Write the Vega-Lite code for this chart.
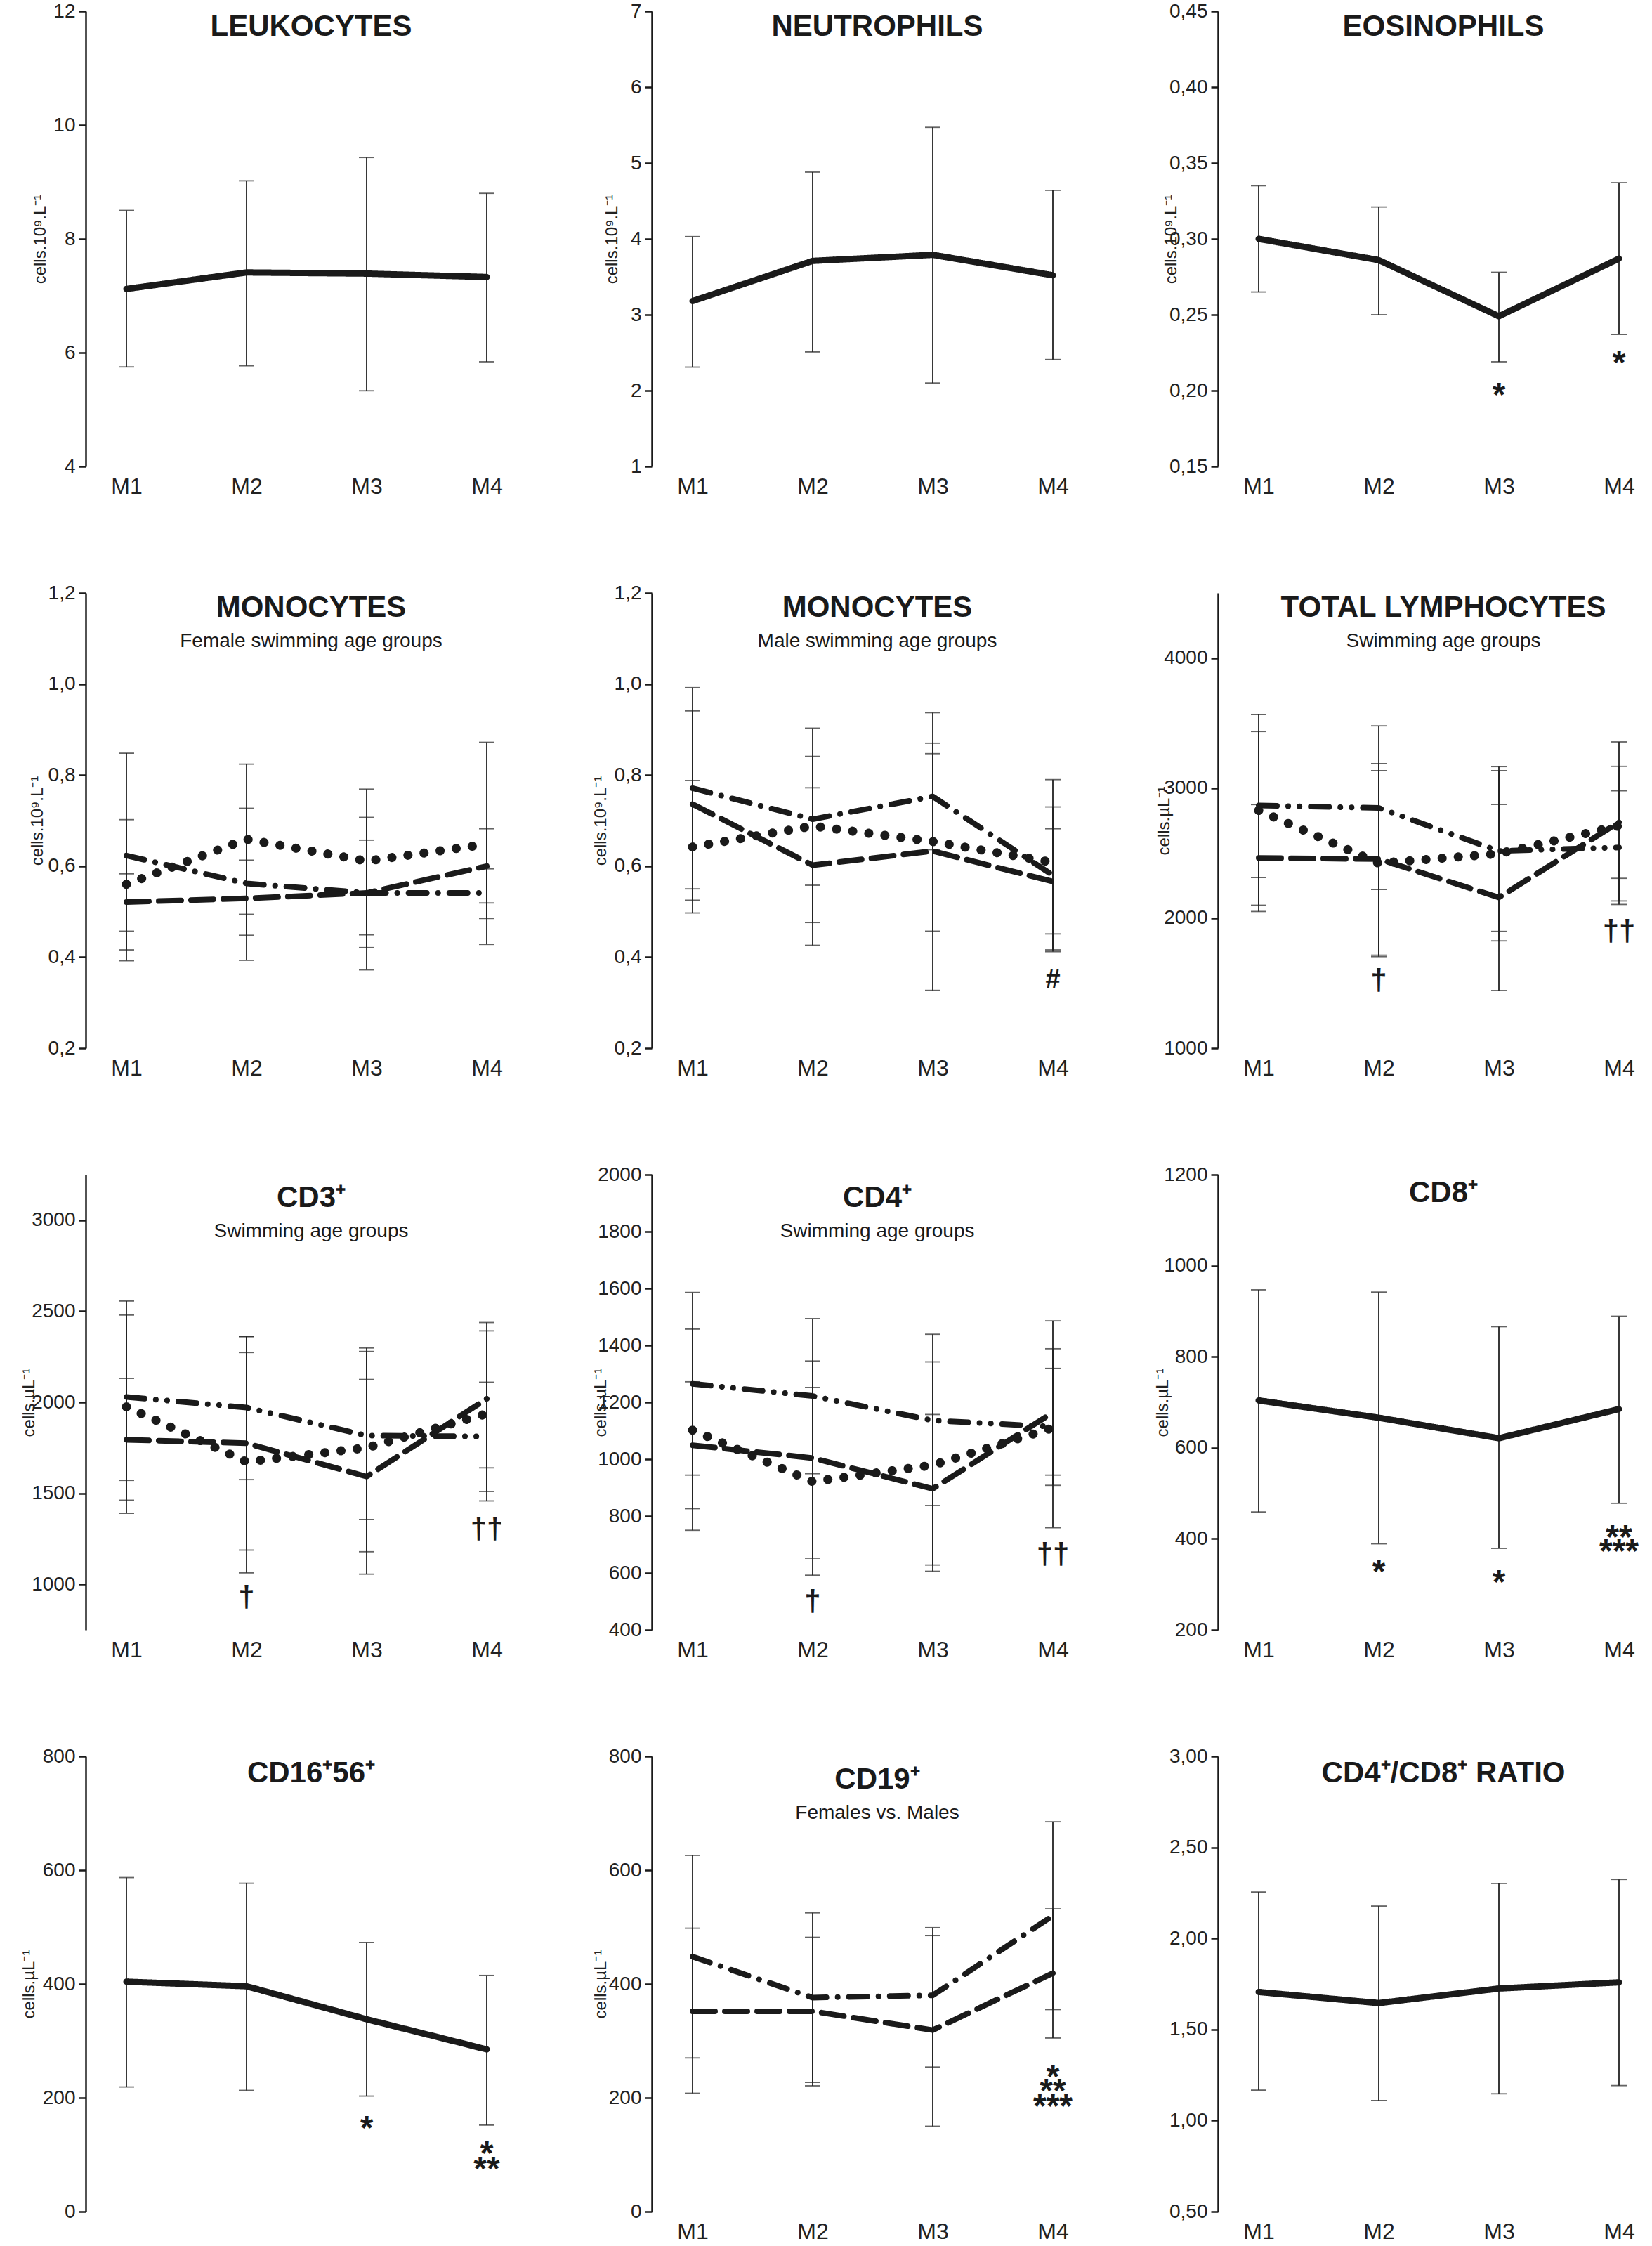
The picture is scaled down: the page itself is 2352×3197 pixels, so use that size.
{
  "$schema": "https://vega.github.io/schema/vega-lite/v6.json",
  "background": "white",
  "padding": {"left": 29, "top": 2, "right": 0, "bottom": 0},
  "datasets": {
    "d": [
      {"p": "leu", "t": "M1", "g": "solid", "m": 7.12, "lo": 5.75, "hi": 8.50},
      {"p": "leu", "t": "M2", "g": "solid", "m": 7.41, "lo": 5.77, "hi": 9.02},
      {"p": "leu", "t": "M3", "g": "solid", "m": 7.39, "lo": 5.33, "hi": 9.43},
      {"p": "leu", "t": "M4", "g": "solid", "m": 7.33, "lo": 5.84, "hi": 8.80},
      {"p": "neu", "t": "M1", "g": "solid", "m": 3.18, "lo": 2.31, "hi": 4.03},
      {"p": "neu", "t": "M2", "g": "solid", "m": 3.71, "lo": 2.51, "hi": 4.88},
      {"p": "neu", "t": "M3", "g": "solid", "m": 3.79, "lo": 2.10, "hi": 5.47},
      {"p": "neu", "t": "M4", "g": "solid", "m": 3.52, "lo": 2.41, "hi": 4.64},
      {"p": "eos", "t": "M1", "g": "solid", "m": 0.300, "lo": 0.265, "hi": 0.335},
      {"p": "eos", "t": "M2", "g": "solid", "m": 0.286, "lo": 0.250, "hi": 0.321},
      {"p": "eos", "t": "M3", "g": "solid", "m": 0.249, "lo": 0.219, "hi": 0.278},
      {"p": "eos", "t": "M4", "g": "solid", "m": 0.287, "lo": 0.237, "hi": 0.337},
      {"p": "monf", "t": "M1", "g": "dot", "m": 0.560, "lo": 0.416, "hi": 0.702},
      {"p": "monf", "t": "M2", "g": "dot", "m": 0.659, "lo": 0.494, "hi": 0.824},
      {"p": "monf", "t": "M3", "g": "dot", "m": 0.611, "lo": 0.449, "hi": 0.769},
      {"p": "monf", "t": "M4", "g": "dot", "m": 0.648, "lo": 0.428, "hi": 0.872},
      {"p": "monf", "t": "M1", "g": "dashdot", "m": 0.623, "lo": 0.392, "hi": 0.848},
      {"p": "monf", "t": "M2", "g": "dashdot", "m": 0.562, "lo": 0.393, "hi": 0.727},
      {"p": "monf", "t": "M3", "g": "dashdot", "m": 0.541, "lo": 0.372, "hi": 0.707},
      {"p": "monf", "t": "M4", "g": "dashdot", "m": 0.541, "lo": 0.485, "hi": 0.594},
      {"p": "monf", "t": "M1", "g": "dash", "m": 0.521, "lo": 0.457, "hi": 0.583},
      {"p": "monf", "t": "M2", "g": "dash", "m": 0.529, "lo": 0.448, "hi": 0.613},
      {"p": "monf", "t": "M3", "g": "dash", "m": 0.541, "lo": 0.421, "hi": 0.657},
      {"p": "monf", "t": "M4", "g": "dash", "m": 0.600, "lo": 0.519, "hi": 0.682},
      {"p": "monm", "t": "M1", "g": "dashdot", "m": 0.771, "lo": 0.550, "hi": 0.992},
      {"p": "monm", "t": "M2", "g": "dashdot", "m": 0.703, "lo": 0.558, "hi": 0.841},
      {"p": "monm", "t": "M3", "g": "dashdot", "m": 0.753, "lo": 0.636, "hi": 0.870},
      {"p": "monm", "t": "M4", "g": "dashdot", "m": 0.580, "lo": 0.412, "hi": 0.730},
      {"p": "monm", "t": "M1", "g": "dash", "m": 0.736, "lo": 0.525, "hi": 0.941},
      {"p": "monm", "t": "M2", "g": "dash", "m": 0.602, "lo": 0.426, "hi": 0.772},
      {"p": "monm", "t": "M3", "g": "dash", "m": 0.633, "lo": 0.327, "hi": 0.937},
      {"p": "monm", "t": "M4", "g": "dash", "m": 0.566, "lo": 0.451, "hi": 0.682},
      {"p": "monm", "t": "M1", "g": "dot", "m": 0.642, "lo": 0.497, "hi": 0.788},
      {"p": "monm", "t": "M2", "g": "dot", "m": 0.688, "lo": 0.476, "hi": 0.903},
      {"p": "monm", "t": "M3", "g": "dot", "m": 0.654, "lo": 0.457, "hi": 0.847},
      {"p": "monm", "t": "M4", "g": "dot", "m": 0.608, "lo": 0.416, "hi": 0.790},
      {"p": "lym", "t": "M1", "g": "dashdotdot", "m": 2866, "lo": 2312, "hi": 3435},
      {"p": "lym", "t": "M2", "g": "dashdotdot", "m": 2847, "lo": 2220, "hi": 3478},
      {"p": "lym", "t": "M3", "g": "dashdotdot", "m": 2516, "lo": 1898, "hi": 3134},
      {"p": "lym", "t": "M4", "g": "dashdotdot", "m": 2543, "lo": 2105, "hi": 2979},
      {"p": "lym", "t": "M1", "g": "dot", "m": 2828, "lo": 2099, "hi": 3565},
      {"p": "lym", "t": "M2", "g": "dot", "m": 2422, "lo": 1715, "hi": 3134},
      {"p": "lym", "t": "M3", "g": "dot", "m": 2495, "lo": 1825, "hi": 3165},
      {"p": "lym", "t": "M4", "g": "dot", "m": 2710, "lo": 2306, "hi": 3167},
      {"p": "lym", "t": "M1", "g": "dash", "m": 2462, "lo": 2051, "hi": 2873},
      {"p": "lym", "t": "M2", "g": "dash", "m": 2454, "lo": 1704, "hi": 3188},
      {"p": "lym", "t": "M3", "g": "dash", "m": 2159, "lo": 1443, "hi": 2874},
      {"p": "lym", "t": "M4", "g": "dash", "m": 2737, "lo": 2132, "hi": 3355},
      {"p": "cd3", "t": "M1", "g": "dashdotdot", "m": 2029, "lo": 1571, "hi": 2479},
      {"p": "cd3", "t": "M2", "g": "dashdotdot", "m": 1971, "lo": 1575, "hi": 2360},
      {"p": "cd3", "t": "M3", "g": "dashdotdot", "m": 1817, "lo": 1356, "hi": 2279},
      {"p": "cd3", "t": "M4", "g": "dashdotdot", "m": 1812, "lo": 1510, "hi": 2110},
      {"p": "cd3", "t": "M1", "g": "dash", "m": 1794, "lo": 1462, "hi": 2131},
      {"p": "cd3", "t": "M2", "g": "dash", "m": 1775, "lo": 1188, "hi": 2362},
      {"p": "cd3", "t": "M3", "g": "dash", "m": 1592, "lo": 1056, "hi": 2125},
      {"p": "cd3", "t": "M4", "g": "dash", "m": 2019, "lo": 1640, "hi": 2438},
      {"p": "cd3", "t": "M1", "g": "dot", "m": 1975, "lo": 1390, "hi": 2556},
      {"p": "cd3", "t": "M2", "g": "dot", "m": 1673, "lo": 1063, "hi": 2273},
      {"p": "cd3", "t": "M3", "g": "dot", "m": 1750, "lo": 1179, "hi": 2298},
      {"p": "cd3", "t": "M4", "g": "dot", "m": 1937, "lo": 1458, "hi": 2392},
      {"p": "cd4", "t": "M1", "g": "dashdotdot", "m": 1265, "lo": 944, "hi": 1586},
      {"p": "cd4", "t": "M2", "g": "dashdotdot", "m": 1222, "lo": 949, "hi": 1494},
      {"p": "cd4", "t": "M3", "g": "dashdotdot", "m": 1136, "lo": 837, "hi": 1439},
      {"p": "cd4", "t": "M4", "g": "dashdotdot", "m": 1114, "lo": 908, "hi": 1319},
      {"p": "cd4", "t": "M1", "g": "dash", "m": 1049, "lo": 826, "hi": 1272},
      {"p": "cd4", "t": "M2", "g": "dash", "m": 1004, "lo": 652, "hi": 1345},
      {"p": "cd4", "t": "M3", "g": "dash", "m": 896, "lo": 628, "hi": 1157},
      {"p": "cd4", "t": "M4", "g": "dash", "m": 1164, "lo": 944, "hi": 1388},
      {"p": "cd4", "t": "M1", "g": "dot", "m": 1102, "lo": 750, "hi": 1457},
      {"p": "cd4", "t": "M2", "g": "dot", "m": 921, "lo": 592, "hi": 1252},
      {"p": "cd4", "t": "M3", "g": "dot", "m": 979, "lo": 606, "hi": 1342},
      {"p": "cd4", "t": "M4", "g": "dot", "m": 1110, "lo": 759, "hi": 1486},
      {"p": "cd8", "t": "M1", "g": "solid", "m": 704, "lo": 459, "hi": 947},
      {"p": "cd8", "t": "M2", "g": "solid", "m": 666, "lo": 389, "hi": 942},
      {"p": "cd8", "t": "M3", "g": "solid", "m": 621, "lo": 379, "hi": 866},
      {"p": "cd8", "t": "M4", "g": "solid", "m": 685, "lo": 478, "hi": 889},
      {"p": "cd16", "t": "M1", "g": "solid", "m": 404, "lo": 219, "hi": 587},
      {"p": "cd16", "t": "M2", "g": "solid", "m": 396, "lo": 213, "hi": 577},
      {"p": "cd16", "t": "M3", "g": "solid", "m": 338, "lo": 203, "hi": 473},
      {"p": "cd16", "t": "M4", "g": "solid", "m": 285, "lo": 152, "hi": 415},
      {"p": "cd19", "t": "M1", "g": "dashdot", "m": 448, "lo": 270, "hi": 626},
      {"p": "cd19", "t": "M2", "g": "dashdot", "m": 376, "lo": 227, "hi": 525},
      {"p": "cd19", "t": "M3", "g": "dashdot", "m": 380, "lo": 254, "hi": 499},
      {"p": "cd19", "t": "M4", "g": "dashdot", "m": 520, "lo": 355, "hi": 685},
      {"p": "cd19", "t": "M1", "g": "dash", "m": 352, "lo": 208, "hi": 498},
      {"p": "cd19", "t": "M2", "g": "dash", "m": 352, "lo": 221, "hi": 482},
      {"p": "cd19", "t": "M3", "g": "dash", "m": 319, "lo": 150, "hi": 485},
      {"p": "cd19", "t": "M4", "g": "dash", "m": 419, "lo": 305, "hi": 532},
      {"p": "ratio", "t": "M1", "g": "solid", "m": 1.706, "lo": 1.167, "hi": 2.255},
      {"p": "ratio", "t": "M2", "g": "solid", "m": 1.645, "lo": 1.110, "hi": 2.178},
      {"p": "ratio", "t": "M3", "g": "solid", "m": 1.725, "lo": 1.147, "hi": 2.302},
      {"p": "ratio", "t": "M4", "g": "solid", "m": 1.759, "lo": 1.192, "hi": 2.324}
    ],
    "s": [
      {"p": "eos", "t": "M3", "s": "*", "v": 0.202},
      {"p": "eos", "t": "M4", "s": "*", "v": 0.223},
      {"p": "monm", "t": "M4", "s": "#", "v": 0.355},
      {"p": "lym", "t": "M2", "s": "†", "v": 1508},
      {"p": "lym", "t": "M4", "s": "††", "v": 1884},
      {"p": "cd3", "t": "M2", "s": "†", "v": 919},
      {"p": "cd3", "t": "M4", "s": "††", "v": 1294},
      {"p": "cd4", "t": "M2", "s": "†", "v": 494},
      {"p": "cd4", "t": "M4", "s": "††", "v": 660},
      {"p": "cd8", "t": "M2", "s": "*", "v": 343},
      {"p": "cd8", "t": "M3", "s": "*", "v": 320},
      {"p": "cd8", "t": "M4", "s": "**", "v": 419},
      {"p": "cd8", "t": "M4", "s": "***", "v": 389},
      {"p": "cd16", "t": "M3", "s": "*", "v": 159},
      {"p": "cd16", "t": "M4", "s": "*", "v": 115},
      {"p": "cd16", "t": "M4", "s": "**", "v": 88},
      {"p": "cd19", "t": "M4", "s": "*", "v": 250},
      {"p": "cd19", "t": "M4", "s": "**", "v": 225},
      {"p": "cd19", "t": "M4", "s": "***", "v": 197}
    ]
  },
  "columns": 3,
  "spacing": {"row": 180, "column": 216},
  "bounds": "flush",
  "align": "all",
  "resolve": {"scale": {"x": "independent", "y": "independent"}},
  "concat": [
    {
      "width": 590, "height": 648,
      "title": {"text": "LEUKOCYTES", "offset": -58},
      "data": {"name": "d"},
      "transform": [{"filter": "datum.p == 'leu'"}],
      "encoding": {"x": {"field": "t", "type": "ordinal", "title": null, "scale": {"type": "point", "range": [58, 571], "padding": 0}}},
      "layer": [
        {"mark": {"type": "rule", "strokeWidth": 1.8, "color": "#222"},
         "encoding": {"y": {"field": "lo", "type": "quantitative", "title": "cells.10⁹.L⁻¹", "scale": {"domain": [4, 12], "nice": false, "zero": false}, "axis": {"values": [4, 6, 8, 10, 12], "format": "d", "titleX": -65}}, "y2": {"field": "hi"}}},
        {"mark": {"type": "tick", "size": 22, "thickness": 1.8, "color": "#222"}, "encoding": {"y": {"field": "lo", "type": "quantitative", "title": "cells.10⁹.L⁻¹"}}},
        {"mark": {"type": "tick", "size": 22, "thickness": 1.8, "color": "#222"}, "encoding": {"y": {"field": "hi", "type": "quantitative", "title": "cells.10⁹.L⁻¹"}}},
        {"mark": {"type": "line", "color": "#1a1a1a", "strokeCap": "round", "strokeJoin": "round"},
         "encoding": {"y": {"field": "m", "type": "quantitative", "title": "cells.10⁹.L⁻¹"},
          "strokeDash": {"field": "g", "type": "nominal", "legend": null, "scale": {"domain": ["dot", "dash", "dashdot", "dashdotdot", "solid"], "range": [[0.1, 23], [32, 14], [26, 16, 0.1, 16], [26, 16, 0.1, 16, 0.1, 16], [1, 0]]}},
          "strokeWidth": {"field": "g", "type": "nominal", "legend": null, "scale": {"type": "ordinal", "domain": ["dot", "dash", "dashdot", "dashdotdot", "solid"], "range": [13, 8, 8, 8, 9]}}}}
      ]
    },
    {
      "width": 590, "height": 648,
      "title": {"text": "NEUTROPHILS", "offset": -58},
      "data": {"name": "d"},
      "transform": [{"filter": "datum.p == 'neu'"}],
      "encoding": {"x": {"field": "t", "type": "ordinal", "title": null, "scale": {"type": "point", "range": [58, 571], "padding": 0}}},
      "layer": [
        {"mark": {"type": "rule", "strokeWidth": 1.8, "color": "#222"},
         "encoding": {"y": {"field": "lo", "type": "quantitative", "title": "cells.10⁹.L⁻¹", "scale": {"domain": [1, 7], "nice": false, "zero": false}, "axis": {"values": [1, 2, 3, 4, 5, 6, 7], "format": "d", "titleX": -57}}, "y2": {"field": "hi"}}},
        {"mark": {"type": "tick", "size": 22, "thickness": 1.8, "color": "#222"}, "encoding": {"y": {"field": "lo", "type": "quantitative", "title": "cells.10⁹.L⁻¹"}}},
        {"mark": {"type": "tick", "size": 22, "thickness": 1.8, "color": "#222"}, "encoding": {"y": {"field": "hi", "type": "quantitative", "title": "cells.10⁹.L⁻¹"}}},
        {"mark": {"type": "line", "color": "#1a1a1a", "strokeCap": "round", "strokeJoin": "round"},
         "encoding": {"y": {"field": "m", "type": "quantitative", "title": "cells.10⁹.L⁻¹"},
          "strokeDash": {"field": "g", "type": "nominal", "legend": null, "scale": {"domain": ["dot", "dash", "dashdot", "dashdotdot", "solid"], "range": [[0.1, 23], [32, 14], [26, 16, 0.1, 16], [26, 16, 0.1, 16, 0.1, 16], [1, 0]]}},
          "strokeWidth": {"field": "g", "type": "nominal", "legend": null, "scale": {"type": "ordinal", "domain": ["dot", "dash", "dashdot", "dashdotdot", "solid"], "range": [13, 8, 8, 8, 9]}}}}
      ]
    },
    {
      "width": 590, "height": 648,
      "title": {"text": "EOSINOPHILS", "offset": -58},
      "data": {"name": "d"},
      "transform": [{"filter": "datum.p == 'eos'"}],
      "encoding": {"x": {"field": "t", "type": "ordinal", "title": null, "scale": {"type": "point", "range": [58, 571], "padding": 0}}},
      "layer": [
        {"mark": {"type": "rule", "strokeWidth": 1.8, "color": "#222"},
         "encoding": {"y": {"field": "lo", "type": "quantitative", "title": "cells.10⁹.L⁻¹", "scale": {"domain": [0.15, 0.45], "nice": false, "zero": false}, "axis": {"values": [0.15, 0.2, 0.25, 0.3, 0.35, 0.4, 0.45], "labelExpr": "replace(format(datum.value, '.2f'), '.', ',')", "titleX": -67}}, "y2": {"field": "hi"}}},
        {"mark": {"type": "tick", "size": 22, "thickness": 1.8, "color": "#222"}, "encoding": {"y": {"field": "lo", "type": "quantitative", "title": "cells.10⁹.L⁻¹"}}},
        {"mark": {"type": "tick", "size": 22, "thickness": 1.8, "color": "#222"}, "encoding": {"y": {"field": "hi", "type": "quantitative", "title": "cells.10⁹.L⁻¹"}}},
        {"mark": {"type": "line", "color": "#1a1a1a", "strokeCap": "round", "strokeJoin": "round"},
         "encoding": {"y": {"field": "m", "type": "quantitative", "title": "cells.10⁹.L⁻¹"},
          "strokeDash": {"field": "g", "type": "nominal", "legend": null, "scale": {"domain": ["dot", "dash", "dashdot", "dashdotdot", "solid"], "range": [[0.1, 23], [32, 14], [26, 16, 0.1, 16], [26, 16, 0.1, 16, 0.1, 16], [1, 0]]}},
          "strokeWidth": {"field": "g", "type": "nominal", "legend": null, "scale": {"type": "ordinal", "domain": ["dot", "dash", "dashdot", "dashdotdot", "solid"], "range": [13, 8, 8, 8, 9]}}}},
        {"data": {"name": "s"}, "transform": [{"filter": "datum.p == 'eos'"}],
         "mark": {"type": "text", "font": "Liberation Sans", "fontWeight": "bold", "fontSize": 48, "baseline": "alphabetic", "dy": 26, "color": "#1a1a1a"},
         "encoding": {"y": {"field": "v", "type": "quantitative", "title": "cells.10⁹.L⁻¹"}, "text": {"field": "s"}}}
      ]
    },
    {
      "width": 590, "height": 648,
      "title": {"text": "MONOCYTES", "subtitle": "Female swimming age groups", "offset": -98},
      "data": {"name": "d"},
      "transform": [{"filter": "datum.p == 'monf'"}],
      "encoding": {"x": {"field": "t", "type": "ordinal", "title": null, "scale": {"type": "point", "range": [58, 571], "padding": 0}}},
      "layer": [
        {"mark": {"type": "rule", "strokeWidth": 1.8, "color": "#222"},
         "encoding": {"y": {"field": "lo", "type": "quantitative", "title": "cells.10⁹.L⁻¹", "scale": {"domain": [0.2, 1.2], "nice": false, "zero": false}, "axis": {"values": [0.2, 0.4, 0.6, 0.8, 1.0, 1.2], "labelExpr": "replace(format(datum.value, '.1f'), '.', ',')", "titleX": -69}}, "y2": {"field": "hi"}}},
        {"mark": {"type": "tick", "size": 22, "thickness": 1.8, "color": "#222"}, "encoding": {"y": {"field": "lo", "type": "quantitative", "title": "cells.10⁹.L⁻¹"}}},
        {"mark": {"type": "tick", "size": 22, "thickness": 1.8, "color": "#222"}, "encoding": {"y": {"field": "hi", "type": "quantitative", "title": "cells.10⁹.L⁻¹"}}},
        {"mark": {"type": "line", "color": "#1a1a1a", "strokeCap": "round", "strokeJoin": "round"},
         "encoding": {"y": {"field": "m", "type": "quantitative", "title": "cells.10⁹.L⁻¹"},
          "strokeDash": {"field": "g", "type": "nominal", "legend": null, "scale": {"domain": ["dot", "dash", "dashdot", "dashdotdot", "solid"], "range": [[0.1, 23], [32, 14], [26, 16, 0.1, 16], [26, 16, 0.1, 16, 0.1, 16], [1, 0]]}},
          "strokeWidth": {"field": "g", "type": "nominal", "legend": null, "scale": {"type": "ordinal", "domain": ["dot", "dash", "dashdot", "dashdotdot", "solid"], "range": [13, 8, 8, 8, 9]}}}}
      ]
    },
    {
      "width": 590, "height": 648,
      "title": {"text": "MONOCYTES", "subtitle": "Male swimming age groups", "offset": -98},
      "data": {"name": "d"},
      "transform": [{"filter": "datum.p == 'monm'"}],
      "encoding": {"x": {"field": "t", "type": "ordinal", "title": null, "scale": {"type": "point", "range": [58, 571], "padding": 0}}},
      "layer": [
        {"mark": {"type": "rule", "strokeWidth": 1.8, "color": "#222"},
         "encoding": {"y": {"field": "lo", "type": "quantitative", "title": "cells.10⁹.L⁻¹", "scale": {"domain": [0.2, 1.2], "nice": false, "zero": false}, "axis": {"values": [0.2, 0.4, 0.6, 0.8, 1.0, 1.2], "labelExpr": "replace(format(datum.value, '.1f'), '.', ',')", "titleX": -73}}, "y2": {"field": "hi"}}},
        {"mark": {"type": "tick", "size": 22, "thickness": 1.8, "color": "#222"}, "encoding": {"y": {"field": "lo", "type": "quantitative", "title": "cells.10⁹.L⁻¹"}}},
        {"mark": {"type": "tick", "size": 22, "thickness": 1.8, "color": "#222"}, "encoding": {"y": {"field": "hi", "type": "quantitative", "title": "cells.10⁹.L⁻¹"}}},
        {"mark": {"type": "line", "color": "#1a1a1a", "strokeCap": "round", "strokeJoin": "round"},
         "encoding": {"y": {"field": "m", "type": "quantitative", "title": "cells.10⁹.L⁻¹"},
          "strokeDash": {"field": "g", "type": "nominal", "legend": null, "scale": {"domain": ["dot", "dash", "dashdot", "dashdotdot", "solid"], "range": [[0.1, 23], [32, 14], [26, 16, 0.1, 16], [26, 16, 0.1, 16, 0.1, 16], [1, 0]]}},
          "strokeWidth": {"field": "g", "type": "nominal", "legend": null, "scale": {"type": "ordinal", "domain": ["dot", "dash", "dashdot", "dashdotdot", "solid"], "range": [13, 8, 8, 8, 9]}}}},
        {"data": {"name": "s"}, "transform": [{"filter": "datum.p == 'monm'"}],
         "mark": {"type": "text", "font": "Liberation Sans", "fontWeight": "bold", "fontSize": 38, "baseline": "alphabetic", "dy": 14, "color": "#1a1a1a"},
         "encoding": {"y": {"field": "v", "type": "quantitative", "title": "cells.10⁹.L⁻¹"}, "text": {"field": "s"}}}
      ]
    },
    {
      "width": 590, "height": 648,
      "title": {"text": "TOTAL LYMPHOCYTES", "subtitle": "Swimming age groups", "offset": -84},
      "data": {"name": "d"},
      "transform": [{"filter": "datum.p == 'lym'"}],
      "encoding": {"x": {"field": "t", "type": "ordinal", "title": null, "scale": {"type": "point", "range": [58, 571], "padding": 0}}},
      "layer": [
        {"mark": {"type": "rule", "strokeWidth": 1.8, "color": "#222"},
         "encoding": {"y": {"field": "lo", "type": "quantitative", "title": "cells.µL⁻¹", "scale": {"domain": [1000, 4500], "nice": false, "zero": false}, "axis": {"values": [1000, 2000, 3000, 4000], "format": "d", "titleX": -77}}, "y2": {"field": "hi"}}},
        {"mark": {"type": "tick", "size": 22, "thickness": 1.8, "color": "#222"}, "encoding": {"y": {"field": "lo", "type": "quantitative", "title": "cells.µL⁻¹"}}},
        {"mark": {"type": "tick", "size": 22, "thickness": 1.8, "color": "#222"}, "encoding": {"y": {"field": "hi", "type": "quantitative", "title": "cells.µL⁻¹"}}},
        {"mark": {"type": "line", "color": "#1a1a1a", "strokeCap": "round", "strokeJoin": "round"},
         "encoding": {"y": {"field": "m", "type": "quantitative", "title": "cells.µL⁻¹"},
          "strokeDash": {"field": "g", "type": "nominal", "legend": null, "scale": {"domain": ["dot", "dash", "dashdot", "dashdotdot", "solid"], "range": [[0.1, 23], [32, 14], [26, 16, 0.1, 16], [26, 16, 0.1, 16, 0.1, 16], [1, 0]]}},
          "strokeWidth": {"field": "g", "type": "nominal", "legend": null, "scale": {"type": "ordinal", "domain": ["dot", "dash", "dashdot", "dashdotdot", "solid"], "range": [13, 8, 8, 8, 9]}}}},
        {"data": {"name": "s"}, "transform": [{"filter": "datum.p == 'lym'"}],
         "mark": {"type": "text", "font": "Liberation Sans", "fontWeight": "bold", "fontSize": 42, "baseline": "alphabetic", "dy": 11, "color": "#1a1a1a"},
         "encoding": {"y": {"field": "v", "type": "quantitative", "title": "cells.µL⁻¹"}, "text": {"field": "s"}}}
      ]
    },
    {
      "width": 590, "height": 648,
      "title": {"text": "CD3⁺", "subtitle": "Swimming age groups", "offset": -96},
      "data": {"name": "d"},
      "transform": [{"filter": "datum.p == 'cd3'"}],
      "encoding": {"x": {"field": "t", "type": "ordinal", "title": null, "scale": {"type": "point", "range": [58, 571], "padding": 0}}},
      "layer": [
        {"mark": {"type": "rule", "strokeWidth": 1.8, "color": "#222"},
         "encoding": {"y": {"field": "lo", "type": "quantitative", "title": "cells.µL⁻¹", "scale": {"domain": [750, 3250], "nice": false, "zero": false}, "axis": {"values": [1000, 1500, 2000, 2500, 3000], "format": "d", "titleX": -81}}, "y2": {"field": "hi"}}},
        {"mark": {"type": "tick", "size": 22, "thickness": 1.8, "color": "#222"}, "encoding": {"y": {"field": "lo", "type": "quantitative", "title": "cells.µL⁻¹"}}},
        {"mark": {"type": "tick", "size": 22, "thickness": 1.8, "color": "#222"}, "encoding": {"y": {"field": "hi", "type": "quantitative", "title": "cells.µL⁻¹"}}},
        {"mark": {"type": "line", "color": "#1a1a1a", "strokeCap": "round", "strokeJoin": "round"},
         "encoding": {"y": {"field": "m", "type": "quantitative", "title": "cells.µL⁻¹"},
          "strokeDash": {"field": "g", "type": "nominal", "legend": null, "scale": {"domain": ["dot", "dash", "dashdot", "dashdotdot", "solid"], "range": [[0.1, 23], [32, 14], [26, 16, 0.1, 16], [26, 16, 0.1, 16, 0.1, 16], [1, 0]]}},
          "strokeWidth": {"field": "g", "type": "nominal", "legend": null, "scale": {"type": "ordinal", "domain": ["dot", "dash", "dashdot", "dashdotdot", "solid"], "range": [13, 8, 8, 8, 9]}}}},
        {"data": {"name": "s"}, "transform": [{"filter": "datum.p == 'cd3'"}],
         "mark": {"type": "text", "font": "Liberation Sans", "fontWeight": "bold", "fontSize": 42, "baseline": "alphabetic", "dy": 11, "color": "#1a1a1a"},
         "encoding": {"y": {"field": "v", "type": "quantitative", "title": "cells.µL⁻¹"}, "text": {"field": "s"}}}
      ]
    },
    {
      "width": 590, "height": 648,
      "title": {"text": "CD4⁺", "subtitle": "Swimming age groups", "offset": -110},
      "data": {"name": "d"},
      "transform": [{"filter": "datum.p == 'cd4'"}],
      "encoding": {"x": {"field": "t", "type": "ordinal", "title": null, "scale": {"type": "point", "range": [58, 571], "padding": 0}}},
      "layer": [
        {"mark": {"type": "rule", "strokeWidth": 1.8, "color": "#222"},
         "encoding": {"y": {"field": "lo", "type": "quantitative", "title": "cells.µL⁻¹", "scale": {"domain": [400, 2000], "nice": false, "zero": false}, "axis": {"values": [400, 600, 800, 1000, 1200, 1400, 1600, 1800, 2000], "format": "d", "titleX": -73}}, "y2": {"field": "hi"}}},
        {"mark": {"type": "tick", "size": 22, "thickness": 1.8, "color": "#222"}, "encoding": {"y": {"field": "lo", "type": "quantitative", "title": "cells.µL⁻¹"}}},
        {"mark": {"type": "tick", "size": 22, "thickness": 1.8, "color": "#222"}, "encoding": {"y": {"field": "hi", "type": "quantitative", "title": "cells.µL⁻¹"}}},
        {"mark": {"type": "line", "color": "#1a1a1a", "strokeCap": "round", "strokeJoin": "round"},
         "encoding": {"y": {"field": "m", "type": "quantitative", "title": "cells.µL⁻¹"},
          "strokeDash": {"field": "g", "type": "nominal", "legend": null, "scale": {"domain": ["dot", "dash", "dashdot", "dashdotdot", "solid"], "range": [[0.1, 23], [32, 14], [26, 16, 0.1, 16], [26, 16, 0.1, 16, 0.1, 16], [1, 0]]}},
          "strokeWidth": {"field": "g", "type": "nominal", "legend": null, "scale": {"type": "ordinal", "domain": ["dot", "dash", "dashdot", "dashdotdot", "solid"], "range": [13, 8, 8, 8, 9]}}}},
        {"data": {"name": "s"}, "transform": [{"filter": "datum.p == 'cd4'"}],
         "mark": {"type": "text", "font": "Liberation Sans", "fontWeight": "bold", "fontSize": 42, "baseline": "alphabetic", "dy": 11, "color": "#1a1a1a"},
         "encoding": {"y": {"field": "v", "type": "quantitative", "title": "cells.µL⁻¹"}, "text": {"field": "s"}}}
      ]
    },
    {
      "width": 590, "height": 648,
      "title": {"text": "CD8⁺", "offset": -62},
      "data": {"name": "d"},
      "transform": [{"filter": "datum.p == 'cd8'"}],
      "encoding": {"x": {"field": "t", "type": "ordinal", "title": null, "scale": {"type": "point", "range": [58, 571], "padding": 0}}},
      "layer": [
        {"mark": {"type": "rule", "strokeWidth": 1.8, "color": "#222"},
         "encoding": {"y": {"field": "lo", "type": "quantitative", "title": "cells.µL⁻¹", "scale": {"domain": [200, 1200], "nice": false, "zero": false}, "axis": {"values": [200, 400, 600, 800, 1000, 1200], "format": "d", "titleX": -79}}, "y2": {"field": "hi"}}},
        {"mark": {"type": "tick", "size": 22, "thickness": 1.8, "color": "#222"}, "encoding": {"y": {"field": "lo", "type": "quantitative", "title": "cells.µL⁻¹"}}},
        {"mark": {"type": "tick", "size": 22, "thickness": 1.8, "color": "#222"}, "encoding": {"y": {"field": "hi", "type": "quantitative", "title": "cells.µL⁻¹"}}},
        {"mark": {"type": "line", "color": "#1a1a1a", "strokeCap": "round", "strokeJoin": "round"},
         "encoding": {"y": {"field": "m", "type": "quantitative", "title": "cells.µL⁻¹"},
          "strokeDash": {"field": "g", "type": "nominal", "legend": null, "scale": {"domain": ["dot", "dash", "dashdot", "dashdotdot", "solid"], "range": [[0.1, 23], [32, 14], [26, 16, 0.1, 16], [26, 16, 0.1, 16, 0.1, 16], [1, 0]]}},
          "strokeWidth": {"field": "g", "type": "nominal", "legend": null, "scale": {"type": "ordinal", "domain": ["dot", "dash", "dashdot", "dashdotdot", "solid"], "range": [13, 8, 8, 8, 9]}}}},
        {"data": {"name": "s"}, "transform": [{"filter": "datum.p == 'cd8'"}],
         "mark": {"type": "text", "font": "Liberation Sans", "fontWeight": "bold", "fontSize": 48, "baseline": "alphabetic", "dy": 26, "color": "#1a1a1a"},
         "encoding": {"y": {"field": "v", "type": "quantitative", "title": "cells.µL⁻¹"}, "text": {"field": "s"}}}
      ]
    },
    {
      "width": 590, "height": 648,
      "title": {"text": "CD16⁺56⁺", "offset": -60},
      "data": {"name": "d"},
      "transform": [{"filter": "datum.p == 'cd16'"}],
      "encoding": {"x": {"field": "t", "type": "ordinal", "title": null, "axis": {"labels": false}, "scale": {"type": "point", "range": [58, 571], "padding": 0}}},
      "layer": [
        {"mark": {"type": "rule", "strokeWidth": 1.8, "color": "#222"},
         "encoding": {"y": {"field": "lo", "type": "quantitative", "title": "cells.µL⁻¹", "scale": {"domain": [0, 800], "nice": false, "zero": false}, "axis": {"values": [0, 200, 400, 600, 800], "format": "d", "titleX": -81}}, "y2": {"field": "hi"}}},
        {"mark": {"type": "tick", "size": 22, "thickness": 1.8, "color": "#222"}, "encoding": {"y": {"field": "lo", "type": "quantitative", "title": "cells.µL⁻¹"}}},
        {"mark": {"type": "tick", "size": 22, "thickness": 1.8, "color": "#222"}, "encoding": {"y": {"field": "hi", "type": "quantitative", "title": "cells.µL⁻¹"}}},
        {"mark": {"type": "line", "color": "#1a1a1a", "strokeCap": "round", "strokeJoin": "round"},
         "encoding": {"y": {"field": "m", "type": "quantitative", "title": "cells.µL⁻¹"},
          "strokeDash": {"field": "g", "type": "nominal", "legend": null, "scale": {"domain": ["dot", "dash", "dashdot", "dashdotdot", "solid"], "range": [[0.1, 23], [32, 14], [26, 16, 0.1, 16], [26, 16, 0.1, 16, 0.1, 16], [1, 0]]}},
          "strokeWidth": {"field": "g", "type": "nominal", "legend": null, "scale": {"type": "ordinal", "domain": ["dot", "dash", "dashdot", "dashdotdot", "solid"], "range": [13, 8, 8, 8, 9]}}}},
        {"data": {"name": "s"}, "transform": [{"filter": "datum.p == 'cd16'"}],
         "mark": {"type": "text", "font": "Liberation Sans", "fontWeight": "bold", "fontSize": 48, "baseline": "alphabetic", "dy": 26, "color": "#1a1a1a"},
         "encoding": {"y": {"field": "v", "type": "quantitative", "title": "cells.µL⁻¹"}, "text": {"field": "s"}}}
      ]
    },
    {
      "width": 590, "height": 648,
      "title": {"text": "CD19⁺", "subtitle": "Females vs. Males", "offset": -110},
      "data": {"name": "d"},
      "transform": [{"filter": "datum.p == 'cd19'"}],
      "encoding": {"x": {"field": "t", "type": "ordinal", "title": null, "scale": {"type": "point", "range": [58, 571], "padding": 0}}},
      "layer": [
        {"mark": {"type": "rule", "strokeWidth": 1.8, "color": "#222"},
         "encoding": {"y": {"field": "lo", "type": "quantitative", "title": "cells.µL⁻¹", "scale": {"domain": [0, 800], "nice": false, "zero": false}, "axis": {"values": [0, 200, 400, 600, 800], "format": "d", "titleX": -73}}, "y2": {"field": "hi"}}},
        {"mark": {"type": "tick", "size": 22, "thickness": 1.8, "color": "#222"}, "encoding": {"y": {"field": "lo", "type": "quantitative", "title": "cells.µL⁻¹"}}},
        {"mark": {"type": "tick", "size": 22, "thickness": 1.8, "color": "#222"}, "encoding": {"y": {"field": "hi", "type": "quantitative", "title": "cells.µL⁻¹"}}},
        {"mark": {"type": "line", "color": "#1a1a1a", "strokeCap": "round", "strokeJoin": "round"},
         "encoding": {"y": {"field": "m", "type": "quantitative", "title": "cells.µL⁻¹"},
          "strokeDash": {"field": "g", "type": "nominal", "legend": null, "scale": {"domain": ["dot", "dash", "dashdot", "dashdotdot", "solid"], "range": [[0.1, 23], [32, 14], [26, 16, 0.1, 16], [26, 16, 0.1, 16, 0.1, 16], [1, 0]]}},
          "strokeWidth": {"field": "g", "type": "nominal", "legend": null, "scale": {"type": "ordinal", "domain": ["dot", "dash", "dashdot", "dashdotdot", "solid"], "range": [13, 8, 8, 8, 9]}}}},
        {"data": {"name": "s"}, "transform": [{"filter": "datum.p == 'cd19'"}],
         "mark": {"type": "text", "font": "Liberation Sans", "fontWeight": "bold", "fontSize": 48, "baseline": "alphabetic", "dy": 26, "color": "#1a1a1a"},
         "encoding": {"y": {"field": "v", "type": "quantitative", "title": "cells.µL⁻¹"}, "text": {"field": "s"}}}
      ]
    },
    {
      "width": 590, "height": 648,
      "title": {"text": "CD4⁺/CD8⁺ RATIO", "offset": -60},
      "data": {"name": "d"},
      "transform": [{"filter": "datum.p == 'ratio'"}],
      "encoding": {"x": {"field": "t", "type": "ordinal", "title": null, "scale": {"type": "point", "range": [58, 571], "padding": 0}}},
      "layer": [
        {"mark": {"type": "rule", "strokeWidth": 1.8, "color": "#222"},
         "encoding": {"y": {"field": "lo", "type": "quantitative", "title": null, "scale": {"domain": [0.5, 3.0], "nice": false, "zero": false}, "axis": {"values": [0.5, 1.0, 1.5, 2.0, 2.5, 3.0], "labelExpr": "replace(format(datum.value, '.2f'), '.', ',')"}}, "y2": {"field": "hi"}}},
        {"mark": {"type": "tick", "size": 22, "thickness": 1.8, "color": "#222"}, "encoding": {"y": {"field": "lo", "type": "quantitative", "title": null}}},
        {"mark": {"type": "tick", "size": 22, "thickness": 1.8, "color": "#222"}, "encoding": {"y": {"field": "hi", "type": "quantitative", "title": null}}},
        {"mark": {"type": "line", "color": "#1a1a1a", "strokeCap": "round", "strokeJoin": "round"},
         "encoding": {"y": {"field": "m", "type": "quantitative", "title": null},
          "strokeDash": {"field": "g", "type": "nominal", "legend": null, "scale": {"domain": ["dot", "dash", "dashdot", "dashdotdot", "solid"], "range": [[0.1, 23], [32, 14], [26, 16, 0.1, 16], [26, 16, 0.1, 16, 0.1, 16], [1, 0]]}},
          "strokeWidth": {"field": "g", "type": "nominal", "legend": null, "scale": {"type": "ordinal", "domain": ["dot", "dash", "dashdot", "dashdotdot", "solid"], "range": [13, 8, 8, 8, 9]}}}}
      ]
    }
  ],
  "config": {
    "view": {"stroke": null},
    "font": "Liberation Sans",
    "axis": {"grid": false},
    "axisY": {
      "domainColor": "#1a1a1a", "domainWidth": 2.5,
      "tickColor": "#1a1a1a", "tickWidth": 2.5, "tickSize": 10,
      "labelFont": "Liberation Sans Narrow, Liberation Sans", "labelFontSize": 28, "labelColor": "#222", "labelPadding": 5,
      "labelOverlap": false, "labelFlush": false,
      "titleFont": "Liberation Sans Narrow, Liberation Sans", "titleFontSize": 24, "titleFontWeight": "normal", "titleColor": "#222",
      "titleBaseline": "middle", "titleAngle": -90
    },
    "axisX": {
      "domain": false, "ticks": false, "tickSize": 0,
      "labelFont": "Liberation Sans Narrow, Liberation Sans", "labelFontSize": 32, "labelColor": "#222", "labelPadding": 13, "labelAngle": 0
    },
    "title": {
      "font": "Liberation Sans", "fontSize": 42, "fontWeight": "bold", "color": "#1a1a1a",
      "anchor": "middle", "frame": "group", "dx": 26,
      "subtitleFont": "Liberation Sans Narrow, Liberation Sans", "subtitleFontSize": 28, "subtitleColor": "#1a1a1a", "subtitlePadding": 12
    }
  }
}
